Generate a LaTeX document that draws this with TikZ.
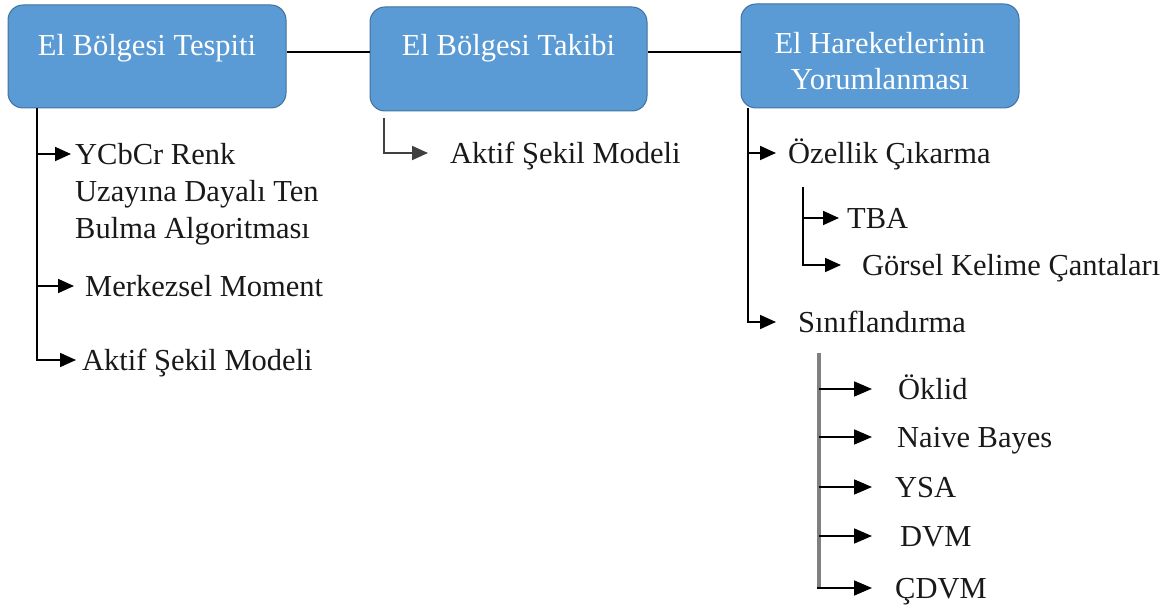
\documentclass[tikz,border=0pt]{standalone}
\usepackage{fontspec}
\setmainfont{Liberation Serif}
\usetikzlibrary{arrows.meta}

\definecolor{boxblue}{HTML}{5B9BD5}
\definecolor{boxedge}{HTML}{41719C}
\definecolor{trunkgray}{HTML}{808080}
\definecolor{elbowgray}{HTML}{404040}

\newcommand\treeitemsize{\rmfamily\fontsize{30.5}{37}\selectfont}
\newcommand\stageheadsize{\rmfamily\fontsize{30.5}{36}\selectfont}

\begin{document}
\begin{tikzpicture}[x=1pt,y=-1pt,
  stagebox/.style={draw=boxedge, line width=1pt, fill=boxblue, rounded corners=15pt,
    text=white, font=\stageheadsize, inner sep=0pt, anchor=base},
  treeitem/.style={anchor=west, inner sep=0pt, text height=21pt, text depth=0pt,
    font=\treeitemsize, text=black!90},
  link/.style={line width=1.8pt, black},
  arr/.style={line width=1.8pt, black, -{Triangle[length=16pt,width=14pt]}},
  bigarr/.style={line width=1.8pt, black, -{Triangle[length=18pt,width=15pt]}},
  grayarr/.style={line width=2pt, elbowgray, -{Triangle[length=16pt,width=14pt]}},
  graytrunk/.style={line width=3.2pt, trunkgray}]

\useasboundingbox (0,0) rectangle (1175,612);

% three stage boxes
\node[stagebox, minimum width=278pt, text height=51pt, text depth=52pt] (b1) at (147,56)
  {El Bölgesi Tespiti};
\node[stagebox, minimum width=277pt, text height=49pt, text depth=55pt] (b2) at (508.5,56)
  {El Bölgesi Takibi};
\node[stagebox, minimum width=278pt, text height=50pt, text depth=54pt] (b3) at (880,54)
  {\begin{tabular}[t]{@{}c@{}}El Hareketlerinin\\Yorumlanması\end{tabular}};

% links between the stages
\draw[link] ([yshift=4pt]b1.base east) -- ([yshift=4pt]b1.base east -| b2.west);
\draw[link] ([yshift=4pt]b2.base east) -- ([yshift=4pt]b2.base east -| b3.west);

% items under the first stage
\node[treeitem] (y1) at (75,154)
  {\begin{tabular}[t]{@{}l@{}}YCbCr Renk\\Uzayına Dayalı Ten\\Bulma Algoritması\end{tabular}};
\node[treeitem] (y2) at (85,286) {Merkezsel Moment};
\node[treeitem] (y3) at (82,360) {Aktif Şekil Modeli};

% item under the second stage
\node[treeitem] (m1) at (450,153) {Aktif Şekil Modeli};

% items under the third stage
\node[treeitem] (r1) at (788,153) {Özellik Çıkarma};
\node[treeitem] (r2) at (847,218) {TBA};
\node[treeitem] (r3) at (862,265) {Görsel Kelime Çantaları};
\node[treeitem] (r4) at (798,322) {Sınıflandırma};

\node[treeitem] (c1) at (898,389) {Öklid};
\node[treeitem] (c2) at (897,437) {Naive Bayes};
\node[treeitem] (c3) at (895,487) {YSA};
\node[treeitem] (c4) at (900,536) {DVM};
\node[treeitem] (c5) at (895,588) {ÇDVM};

% trunk positions
\coordinate (lt) at (37,0);
\coordinate (mt) at (384,118);
\coordinate (rt) at (748,0);
\coordinate (st) at (803,187);
\coordinate (ct) at (819,353);

% first stage tree
\draw[arr, shorten >=6pt] (b1.south -| lt) |- (y3.west);
\draw[arr, shorten >=4pt] (lt |- y1.west) -- (y1.west);
\draw[arr, shorten >=11pt] (lt |- y2.west) -- (y2.west);

% second stage tree
\draw[grayarr, shorten >=22pt] (mt) |- (m1.west);

% third stage tree
\draw[arr, shorten >=22pt] (b3.south -| rt) |- (r4.west);
\draw[arr, shorten >=12pt] (rt |- r1.west) -- (r1.west);

\draw[arr, shorten >=21pt] (st) |- (r3.west);
\draw[arr, shorten >=8pt] (st |- r2.west) -- (r2.west);

\draw[graytrunk] (ct) -- (ct |- c5.west);
\draw[bigarr, shorten >=26pt] (ct |- c1.west) -- (c1.west);
\draw[bigarr, shorten >=25pt] (ct |- c2.west) -- (c2.west);
\draw[bigarr, shorten >=23pt] (ct |- c3.west) -- (c3.west);
\draw[bigarr, shorten >=28pt] (ct |- c4.west) -- (c4.west);
\draw[bigarr, shorten >=23pt] ([xshift=-1.6pt]ct |- c5.west) -- (c5.west);

\end{tikzpicture}
\end{document}
